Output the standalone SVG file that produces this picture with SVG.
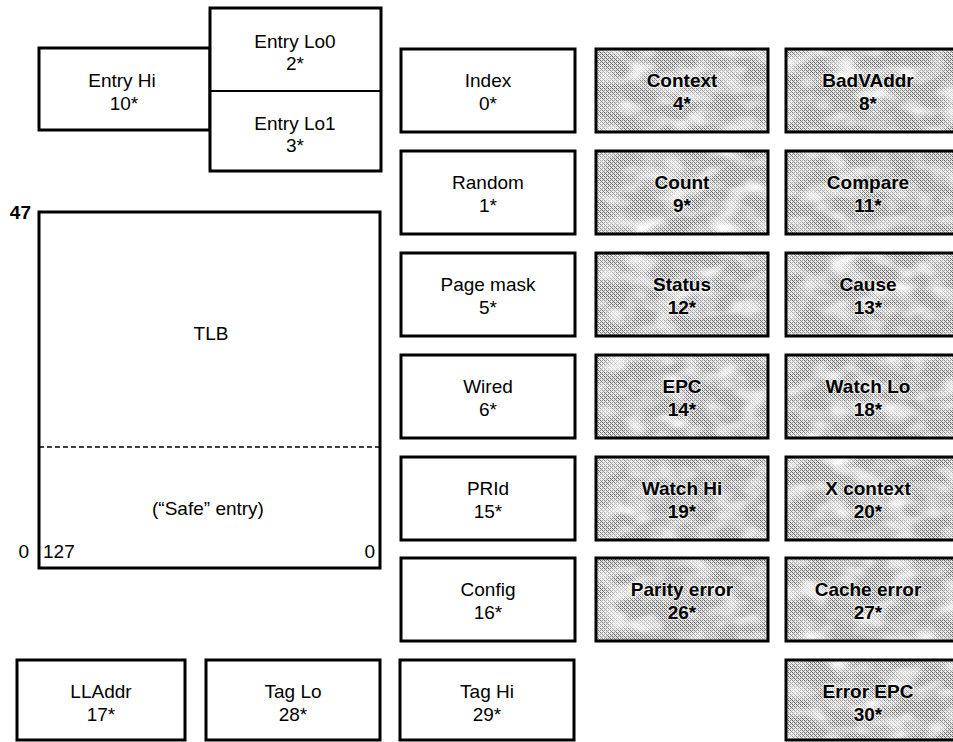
<svg xmlns="http://www.w3.org/2000/svg" width="953" height="742" viewBox="0 0 953 742">
<defs>
<pattern id="dither" width="4" height="4" patternUnits="userSpaceOnUse">
<rect width="4" height="4" fill="#e4e4e4"/>
<rect x="0" y="0" width="1" height="1" fill="#5a5a5a"/>
<rect x="2" y="0" width="1" height="1" fill="#888"/>
<rect x="1" y="1" width="1" height="1" fill="#777"/>
<rect x="0" y="2" width="1" height="1" fill="#888"/>
<rect x="2" y="2" width="1" height="1" fill="#5a5a5a"/>
<rect x="3" y="3" width="1" height="1" fill="#777"/>
</pattern>
<filter id="mottle" x="0" y="0" width="1" height="1">
<feTurbulence type="fractalNoise" baseFrequency="0.035 0.06" numOctaves="2" seed="7"/>
<feColorMatrix type="matrix" values="0 0 0 0 1  0 0 0 0 1  0 0 0 0 1  2.2 0 0 0 -0.9"/>
<feComposite in2="SourceGraphic" operator="in"/>
</filter>
</defs>
<style>
.box{fill:#fff;stroke:#000;stroke-width:3}
.sh{fill:url(#dither);stroke:none}
.mo{fill:#fff;filter:url(#mottle)}
.fr{fill:none;stroke:#000;stroke-width:3}
text{font-family:"Liberation Sans",Arial,sans-serif;font-size:19px;fill:#000;text-anchor:middle}
.b{font-weight:bold;stroke:#fff;stroke-width:2.5;stroke-opacity:0.5;paint-order:stroke;stroke-linejoin:round}
.n{font-weight:bold}
.l{text-anchor:start}
.r{text-anchor:end}
.thin{stroke:#000;stroke-width:2;fill:none}
.dash{stroke:#000;stroke-width:1.6;stroke-dasharray:5 3;fill:none}
</style>

<g id="entry-hi"><rect class="box" x="39" y="48" width="171" height="82"/><text x="122" y="87">Entry Hi</text><text x="124" y="110">10*</text></g>
<g id="entry-lo"><rect class="box" x="210" y="8" width="171" height="163"/><line class="thin" x1="210" y1="91" x2="381" y2="91"/>
<text x="295" y="48">Entry Lo0</text><text x="295" y="70">2*</text>
<text x="295" y="130">Entry Lo1</text><text x="295" y="152">3*</text></g>

<g id="tlb"><rect class="box" x="39" y="212" width="341" height="356"/><line class="dash" x1="39" y1="447" x2="380" y2="447"/>
<text x="211" y="340">TLB</text><text x="208" y="515">(“Safe” entry)</text>
<text class="r n" x="31" y="219">47</text><text class="r" x="29" y="558">0</text><text class="l" x="43" y="558">127</text><text class="r" x="375" y="558">0</text></g>

<g id="index"><rect class="box" x="401" y="49" width="174" height="83"/><text x="488" y="87">Index</text><text x="488" y="110">0*</text></g>
<g id="random"><rect class="box" x="401" y="151" width="174" height="83"/><text x="488" y="189">Random</text><text x="488" y="212">1*</text></g>
<g id="page-mask"><rect class="box" x="401" y="253" width="174" height="83"/><text x="488" y="291">Page mask</text><text x="488" y="314">5*</text></g>
<g id="wired"><rect class="box" x="401" y="355" width="174" height="83"/><text x="488" y="393">Wired</text><text x="488" y="416">6*</text></g>
<g id="prid"><rect class="box" x="401" y="457" width="174" height="83"/><text x="488" y="495">PRId</text><text x="488" y="518">15*</text></g>
<g id="config"><rect class="box" x="401" y="558" width="174" height="83"/><text x="488" y="596">Config</text><text x="488" y="619">16*</text></g>
<g id="tag-hi"><rect class="box" x="400" y="660" width="174" height="80"/><text x="487" y="698">Tag Hi</text><text x="487" y="721">29*</text></g>
<g id="lladdr"><rect class="box" x="17" y="660" width="168" height="80"/><text x="101" y="698">LLAddr</text><text x="101" y="721">17*</text></g>
<g id="tag-lo"><rect class="box" x="206" y="660" width="174" height="80"/><text x="293" y="698">Tag Lo</text><text x="293" y="721">28*</text></g>

<g id="context"><rect class="sh" x="596" y="49" width="172" height="83"/><rect class="mo" x="596" y="49" width="172" height="83"/><rect class="fr" x="596" y="49" width="172" height="83"/><text class="b" x="682" y="87">Context</text><text class="b" x="682" y="110">4*</text></g>
<g id="count"><rect class="sh" x="596" y="151" width="172" height="83"/><rect class="mo" x="596" y="151" width="172" height="83"/><rect class="fr" x="596" y="151" width="172" height="83"/><text class="b" x="682" y="189">Count</text><text class="b" x="682" y="212">9*</text></g>
<g id="status"><rect class="sh" x="596" y="253" width="172" height="83"/><rect class="mo" x="596" y="253" width="172" height="83"/><rect class="fr" x="596" y="253" width="172" height="83"/><text class="b" x="682" y="291">Status</text><text class="b" x="682" y="314">12*</text></g>
<g id="epc"><rect class="sh" x="596" y="355" width="172" height="83"/><rect class="mo" x="596" y="355" width="172" height="83"/><rect class="fr" x="596" y="355" width="172" height="83"/><text class="b" x="682" y="393">EPC</text><text class="b" x="682" y="416">14*</text></g>
<g id="watch-hi"><rect class="sh" x="596" y="457" width="172" height="83"/><rect class="mo" x="596" y="457" width="172" height="83"/><rect class="fr" x="596" y="457" width="172" height="83"/><text class="b" x="682" y="495">Watch Hi</text><text class="b" x="682" y="518">19*</text></g>
<g id="parity-error"><rect class="sh" x="596" y="558" width="172" height="83"/><rect class="mo" x="596" y="558" width="172" height="83"/><rect class="fr" x="596" y="558" width="172" height="83"/><text class="b" x="682" y="596">Parity error</text><text class="b" x="682" y="619">26*</text></g>

<g id="badvaddr"><rect class="sh" x="786" y="49" width="172" height="83"/><rect class="mo" x="786" y="49" width="172" height="83"/><rect class="fr" x="786" y="49" width="172" height="83"/><text class="b" x="868" y="87">BadVAddr</text><text class="b" x="868" y="110">8*</text></g>
<g id="compare"><rect class="sh" x="786" y="151" width="172" height="83"/><rect class="mo" x="786" y="151" width="172" height="83"/><rect class="fr" x="786" y="151" width="172" height="83"/><text class="b" x="868" y="189">Compare</text><text class="b" x="868" y="212">11*</text></g>
<g id="cause"><rect class="sh" x="786" y="253" width="172" height="83"/><rect class="mo" x="786" y="253" width="172" height="83"/><rect class="fr" x="786" y="253" width="172" height="83"/><text class="b" x="868" y="291">Cause</text><text class="b" x="868" y="314">13*</text></g>
<g id="watch-lo"><rect class="sh" x="786" y="355" width="172" height="83"/><rect class="mo" x="786" y="355" width="172" height="83"/><rect class="fr" x="786" y="355" width="172" height="83"/><text class="b" x="868" y="393">Watch Lo</text><text class="b" x="868" y="416">18*</text></g>
<g id="x-context"><rect class="sh" x="786" y="457" width="172" height="83"/><rect class="mo" x="786" y="457" width="172" height="83"/><rect class="fr" x="786" y="457" width="172" height="83"/><text class="b" x="868" y="495">X context</text><text class="b" x="868" y="518">20*</text></g>
<g id="cache-error"><rect class="sh" x="786" y="558" width="172" height="83"/><rect class="mo" x="786" y="558" width="172" height="83"/><rect class="fr" x="786" y="558" width="172" height="83"/><text class="b" x="868" y="596">Cache error</text><text class="b" x="868" y="619">27*</text></g>
<g id="error-epc"><rect class="sh" x="786" y="660" width="172" height="80"/><rect class="mo" x="786" y="660" width="172" height="80"/><rect class="fr" x="786" y="660" width="172" height="80"/><text class="b" x="868" y="698">Error EPC</text><text class="b" x="868" y="721">30*</text></g>

<g id="connectors"></g>
</svg>
